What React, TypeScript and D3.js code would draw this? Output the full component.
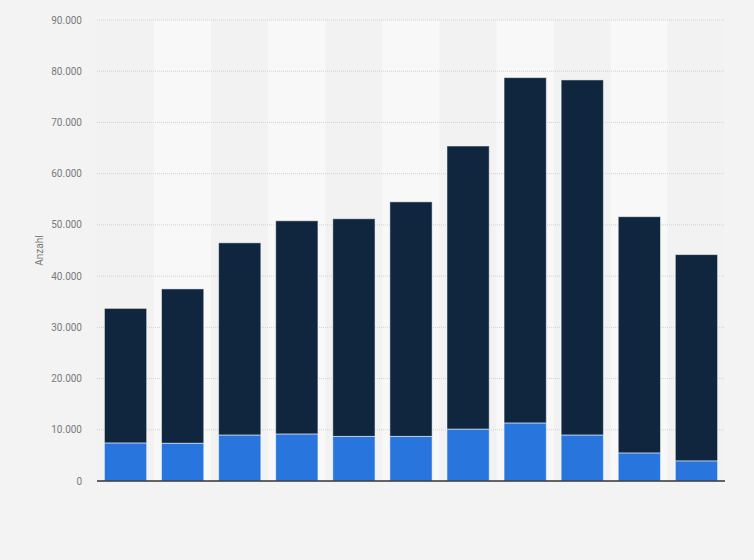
import React from "react";
import * as d3 from "d3";

const categories = ["1", "2", "3", "4", "5", "6", "7", "8", "9", "10", "11"];
const blueValues = [7400, 7350, 8950, 9150, 8700, 8700, 10100, 11300, 8950, 5450, 3900];
const totalValues = [33700, 37500, 46500, 50800, 51200, 54500, 65400, 78750, 78300, 51600, 44200];
const yTicks = [0, 10000, 20000, 30000, 40000, 50000, 60000, 70000, 80000, 90000];

const W = 754;
const H = 560;
const M = { left: 97, right: 29, top: 20, bottom: 79 };

export default function App() {
  const x = d3
    .scaleBand<string>()
    .domain(categories)
    .range([M.left, W - M.right])
    .paddingInner(0.26)
    .paddingOuter(0.13);
  const band = d3.scaleBand<string>().domain(categories).range([M.left, W - M.right]);
  const y = d3.scaleLinear().domain([0, 90000]).range([H - M.bottom, M.top]);
  const fmt = (v: number) => d3.format(",")(v).replace(/,/g, ".");
  const font = "Roboto, 'Open Sans', Arial, sans-serif";

  return (
    <svg
      width={W}
      height={H}
      style={{ position: "absolute", left: 0, top: 0, display: "block" }}
    >
      <rect x={0} y={0} width={W} height={H} fill="#f3f3f3" />
      {categories.map((c, i) => (
        <rect
          key={"b" + c}
          x={band(c)}
          y={M.top}
          width={band.bandwidth()}
          height={H - M.bottom - M.top}
          fill={i % 2 === 0 ? "#f2f2f2" : "#f8f8f8"}
        />
      ))}
      {yTicks.map((t) => (
        <g key={"t" + t}>
          {t > 0 && (
            <line
              x1={M.left}
              x2={W - M.right}
              y1={y(t)}
              y2={y(t)}
              stroke="#d2d2d2"
              strokeWidth={1}
              strokeDasharray="1,1"
            />
          )}
          <text
            x={82}
            y={y(t)}
            dy="0.35em"
            textAnchor="end"
            fontFamily={font}
            fontSize={10}
            fill="#7a7a7a"
          >
            {fmt(t)}
          </text>
        </g>
      ))}
      <text
        transform={`translate(43,${(M.top + H - M.bottom) / 2}) rotate(-90)`}
        textAnchor="middle"
        fontFamily={font}
        fontSize={10}
        fill="#7a7a7a"
      >
        Anzahl
      </text>
      {categories.map((c, i) => (
        <g key={"bar" + c}>
          <rect
            x={x(c)}
            y={y(totalValues[i])}
            width={x.bandwidth()}
            height={y(blueValues[i]) - y(totalValues[i])}
            fill="#10263e"
            stroke="#ffffff"
            strokeOpacity={0.5}
            strokeWidth={1}
          />
          <rect
            x={x(c)}
            y={y(blueValues[i])}
            width={x.bandwidth()}
            height={y(0) - y(blueValues[i])}
            fill="#2876dd"
            stroke="#ffffff"
            strokeOpacity={0.5}
            strokeWidth={1}
          />
        </g>
      ))}
      <line
        x1={M.left}
        x2={W - M.right}
        y1={y(0)}
        y2={y(0)}
        stroke="#333"
        strokeWidth={1.5}
      />
    </svg>
  );
}
